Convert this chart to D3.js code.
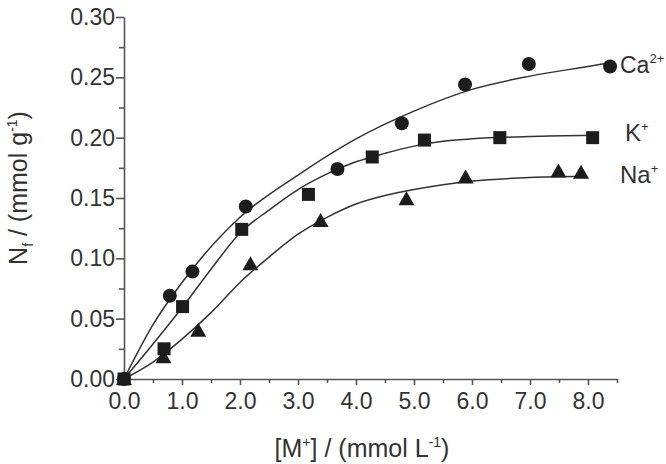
<!DOCTYPE html>
<html><head><meta charset="utf-8">
<script src="https://cdn.jsdelivr.net/npm/d3@7"></script>
<style>body{margin:0;background:#fff}svg{display:block}text{font-family:Arial,"Liberation Sans",sans-serif;fill:#333}</style>
</head><body>
<svg id="c" width="666" height="464"></svg>
<script>
// Measured points
const caX = [0, 0.79, 1.18, 2.10, 3.68, 4.79, 5.88, 6.98, 8.38];
const caY = [0, 0.069, 0.089, 0.143, 0.174, 0.212, 0.244, 0.261, 0.259];
const kX = [0, 0.69, 1.01, 2.03, 3.18, 4.28, 5.18, 6.48, 8.08];
const kY = [0, 0.025, 0.060, 0.124, 0.153, 0.184, 0.198, 0.200, 0.200];
const naX = [0, 0.68, 1.28, 2.18, 3.39, 4.87, 5.89, 7.49, 7.88];
const naY = [0, 0.018, 0.040, 0.095, 0.131, 0.149, 0.167, 0.172, 0.171];
// Fitted curves
const caFitX = [0, 0.5, 1.0, 2.0, 3.0, 4.0, 5.0, 6.0, 7.0, 8.0, 8.38];
const caFitY = [0, 0.045, 0.080, 0.134, 0.169, 0.199, 0.222, 0.240, 0.251, 0.259, 0.262];
const kFitX = [0, 0.5, 1.0, 1.5, 2.0, 2.5, 3.0, 3.5, 4.0, 4.5, 5.0, 5.5, 6.0, 7.0, 8.08];
const kFitY = [0, 0.029, 0.059, 0.091, 0.121, 0.140, 0.157, 0.170, 0.180, 0.187, 0.193, 0.197, 0.199, 0.201, 0.202];
const naFitX = [0, 0.5, 1.0, 1.5, 2.0, 2.5, 3.0, 3.5, 4.0, 4.5, 5.0, 5.5, 6.0, 7.0, 7.88];
const naFitY = [0, 0.014, 0.033, 0.055, 0.080, 0.101, 0.120, 0.134, 0.145, 0.152, 0.157, 0.161, 0.164, 0.167, 0.168];
const xTicks = [0, 1, 2, 3, 4, 5, 6, 7, 8];
const xMinor = [0.5, 1.5, 2.5, 3.5, 4.5, 5.5, 6.5, 7.5, 8.5];
const yTicks = [0, 0.05, 0.10, 0.15, 0.20, 0.25, 0.30];
const yMinor = [0.025, 0.075, 0.125, 0.175, 0.225, 0.275];

const svg = d3.select("#c");
svg.append("rect").attr("width",666).attr("height",464).attr("fill","#fff");
const x = d3.scaleLinear().domain([0, 8.5]).range([124, 617]);
const y = d3.scaleLinear().domain([0, 0.30]).range([379, 17]);
const axCol = "#555";

const gx = svg.append("g").attr("transform","translate(0,379)")
  .call(d3.axisBottom(x).tickValues(xTicks).tickFormat(d3.format(".1f")).tickSize(6).tickSizeOuter(0).tickPadding(8));
const gxm = svg.append("g").attr("transform","translate(0,379)")
  .call(d3.axisBottom(x).tickValues(xMinor).tickFormat("").tickSize(4).tickSizeOuter(0));
const gy = svg.append("g").attr("transform","translate(124,0)")
  .call(d3.axisLeft(y).tickValues(yTicks).tickFormat(d3.format(".2f")).tickSize(8).tickSizeOuter(0).tickPadding(1));
const gym = svg.append("g").attr("transform","translate(124,0)")
  .call(d3.axisLeft(y).tickValues(yMinor).tickFormat("").tickSize(5).tickSizeOuter(0));
[gx,gxm,gy,gym].forEach(g=>{
  g.selectAll("path,line").attr("stroke",axCol).attr("stroke-width",1.6);
  g.selectAll("text").style("font-size","23px").attr("fill","#333");
});
gxm.select("path").remove(); gym.select("path").remove();

const line = d3.line().x(d=>x(d[0])).y(d=>y(d[1])).curve(d3.curveMonotoneX);
const fits = [[caFitX,caFitY],[kFitX,kFitY],[naFitX,naFitY]];
fits.forEach(([fx,fy])=>{
  svg.append("path").datum(fx.map((v,i)=>[v,fy[i]])).attr("d",line)
    .attr("fill","none").attr("stroke","#333").attr("stroke-width",1.5);
});

const mk = "#1c1c1c";
const zip = (a,b)=>a.map((v,i)=>[v,b[i]]);
svg.append("g").selectAll("circle").data(zip(caX,caY)).join("circle")
  .attr("cx",d=>x(d[0])).attr("cy",d=>y(d[1])).attr("r",7).attr("fill",mk);
svg.append("g").selectAll("rect").data(zip(kX,kY)).join("rect")
  .attr("x",d=>x(d[0])-6.5).attr("y",d=>y(d[1])-6.5).attr("width",13).attr("height",13).attr("fill",mk);
svg.append("g").selectAll("path").data(zip(naX,naY)).join("path")
  .attr("d",d=>{const cx=x(d[0]),cy=y(d[1]);return `M${cx},${cy-8}L${cx+8},${cy+6}L${cx-8},${cy+6}Z`;}).attr("fill",mk);

function label(xp, yp, base, sup, fs){
  const t = svg.append("text").attr("x",xp).attr("y",yp).style("font-size",fs+"px");
  t.append("tspan").text(base);
  t.append("tspan").attr("dy",-10).style("font-size","13px").text(sup);
}
label(620, 73, "Ca", "2+", 23);
label(625, 141, "K", "+", 24);
label(620, 183, "Na", "+", 24);

// axis titles
const xt = svg.append("text").attr("x",362).attr("y",457).attr("text-anchor","middle").style("font-size","25px");
xt.append("tspan").text("[M");
xt.append("tspan").attr("dy",-10).style("font-size","14px").text("+");
xt.append("tspan").attr("dy",10).text("] / (mmol L");
xt.append("tspan").attr("dy",-10).style("font-size","14px").text("-1");
xt.append("tspan").attr("dy",10).text(")");

const yt = svg.append("text").attr("transform","translate(27,188) rotate(-90)").attr("text-anchor","middle").style("font-size","25px");
yt.append("tspan").text("N");
yt.append("tspan").attr("dy",6).style("font-size","14px").text("f");
yt.append("tspan").attr("dy",-6).text(" / (mmol g");
yt.append("tspan").attr("dy",-10).style("font-size","14px").text("-1");
yt.append("tspan").attr("dy",10).text(")");
</script>
</body></html>
